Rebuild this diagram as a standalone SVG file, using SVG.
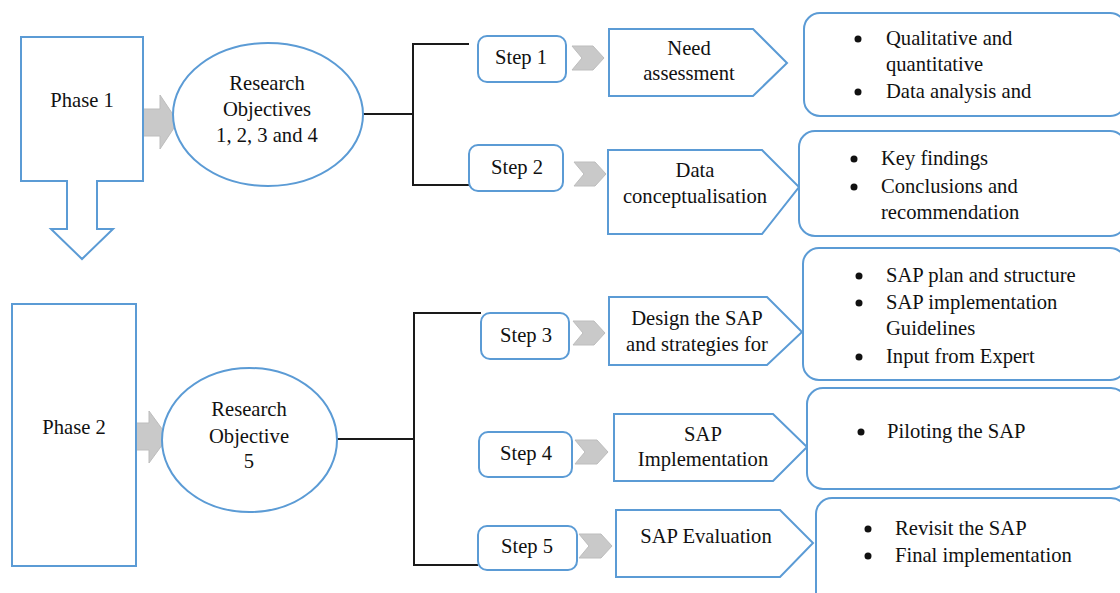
<svg xmlns="http://www.w3.org/2000/svg" width="1120" height="593" viewBox="0 0 1120 593">
  <style>
    .shape { fill: #ffffff; stroke: #5b9bd5; stroke-width: 2; }
    .block { fill: #c9c9c9; stroke: #bdbdbd; stroke-width: 1; }
    .wire { fill: none; stroke: #1a1a1a; stroke-width: 2; }
    .c { text-anchor: middle; }
    .dot { fill: #111111; }
  </style>
  <rect width="1120" height="593" fill="#ffffff"/>

  <!-- connectors -->
  <g id="connectors">
    <polyline class="wire" points="363,114 413,114"/>
    <polyline class="wire" points="469,44 413,44 413,185 469,185"/>
    <polyline class="wire" points="337,439 414,439"/>
    <polyline class="wire" points="481,313 414,313 414,565 478,565"/>
    <!-- block arrows from phases to objectives -->
    <polygon class="block" points="143,109 160,109 160,95 178,122 160,149 160,136 143,136"/>
    <polygon class="block" points="132,423 149,423 149,411 168,437 149,463 149,450 132,450"/>
    <!-- chevrons from steps to activities -->
    <polygon class="block" points="572,46 593,46 604,58 593,70 572,70 582,58"/>
    <polygon class="block" points="574,162 595,162 606,174 595,186 574,186 584,174"/>
    <polygon class="block" points="573,321 594,321 605,333 594,345 573,345 583,333"/>
    <polygon class="block" points="575,440 597,440 608,452 597,464 575,464 585,452"/>
    <polygon class="block" points="579,534 601,534 612,546 601,558 579,558 589,546"/>
  </g>

  <g font-family="'Liberation Serif', 'Times New Roman', Times, serif" font-size="20.6" fill="#111111">
  <!-- Phase 1 -->
  <g id="phase1">
    <polygon class="shape" points="21,37 143,37 143,181 97,181 97,229 113,229 82,259 51,229 67,229 67,181 21,181"/>
    <text class="c" x="82" y="107">Phase 1</text>
  </g>
  <g id="objectives1">
    <ellipse class="shape" cx="268" cy="114.5" rx="95" ry="71.5"/>
    <text class="c" x="267" y="90">Research</text>
    <text class="c" x="267" y="116">Objectives</text>
    <text class="c" x="267" y="142">1, 2, 3 and 4</text>
  </g>

  <!-- Phase 2 -->
  <g id="phase2">
    <rect class="shape" x="12" y="304" width="124" height="262"/>
    <text class="c" x="74" y="434">Phase 2</text>
  </g>
  <g id="objective5">
    <ellipse class="shape" cx="249.5" cy="440" rx="87.5" ry="72"/>
    <text class="c" x="249" y="416">Research</text>
    <text class="c" x="249" y="443">Objective</text>
    <text class="c" x="249" y="468">5</text>
  </g>

  <!-- Steps -->
  <g id="step1">
    <rect class="shape" x="478" y="36" width="88" height="46" rx="9"/>
    <text class="c" x="521" y="64">Step 1</text>
  </g>
  <g id="step2">
    <rect class="shape" x="469" y="145" width="94" height="46" rx="9"/>
    <text class="c" x="517" y="174">Step 2</text>
  </g>
  <g id="step3">
    <rect class="shape" x="481" y="313" width="88" height="46" rx="9"/>
    <text class="c" x="526" y="342">Step 3</text>
  </g>
  <g id="step4">
    <rect class="shape" x="479" y="432" width="93" height="45" rx="9"/>
    <text class="c" x="526" y="460">Step 4</text>
  </g>
  <g id="step5">
    <rect class="shape" x="478" y="526" width="99" height="44" rx="9"/>
    <text class="c" x="527" y="553">Step 5</text>
  </g>

  <!-- Activities -->
  <g id="need-assessment">
    <polygon class="shape" points="609,29 753,29 787,63 753,96 609,96"/>
    <text class="c" x="689" y="55">Need</text>
    <text class="c" x="689" y="80">assessment</text>
  </g>
  <g id="data-conceptualisation">
    <polygon class="shape" points="608,150 762,150 799,187 762,234 608,234"/>
    <text class="c" x="695" y="177">Data</text>
    <text class="c" x="695" y="203">conceptualisation</text>
  </g>
  <g id="design-sap">
    <polygon class="shape" points="609,297 767,297 802,332 767,365 609,365"/>
    <text class="c" x="697" y="325">Design the SAP</text>
    <text class="c" x="697" y="351">and strategies for</text>
  </g>
  <g id="sap-implementation">
    <polygon class="shape" points="614,414 773,414 807,447 773,481 614,481"/>
    <text class="c" x="703" y="441">SAP</text>
    <text class="c" x="703" y="466">Implementation</text>
  </g>
  <g id="sap-evaluation">
    <polygon class="shape" points="616,510 780,510 813,543 780,577 616,577"/>
    <text class="c" x="706" y="543">SAP Evaluation</text>
  </g>

  <!-- Outcomes -->
  <g id="outcomes1">
    <rect class="shape" x="804" y="13" width="322" height="103" rx="16"/>
    <circle class="dot" cx="858" cy="39" r="3.5"/>
    <circle class="dot" cx="858" cy="92" r="3.5"/>
    <text x="886" y="45">Qualitative and</text>
    <text x="886" y="71">quantitative</text>
    <text x="886" y="98">Data analysis and</text>
  </g>
  <g id="outcomes2">
    <rect class="shape" x="799" y="131" width="327" height="105" rx="16"/>
    <circle class="dot" cx="854" cy="159" r="3.5"/>
    <circle class="dot" cx="854" cy="187" r="3.5"/>
    <text x="881" y="165">Key findings</text>
    <text x="881" y="193">Conclusions and</text>
    <text x="881" y="219">recommendation</text>
  </g>
  <g id="outcomes3">
    <rect class="shape" x="803" y="248" width="323" height="132" rx="16"/>
    <circle class="dot" cx="859" cy="276" r="3.5"/>
    <circle class="dot" cx="859" cy="303" r="3.5"/>
    <circle class="dot" cx="859" cy="357" r="3.5"/>
    <text x="886" y="282">SAP plan and structure</text>
    <text x="886" y="309">SAP implementation</text>
    <text x="886" y="335">Guidelines</text>
    <text x="886" y="363">Input from Expert</text>
  </g>
  <g id="outcomes4">
    <rect class="shape" x="807" y="388" width="320" height="101" rx="16"/>
    <circle class="dot" cx="861" cy="432" r="3.5"/>
    <text x="887" y="438">Piloting the SAP</text>
  </g>
  <g id="outcomes5">
    <rect class="shape" x="816" y="498" width="311" height="110" rx="16"/>
    <circle class="dot" cx="868" cy="529" r="3.5"/>
    <circle class="dot" cx="868" cy="556" r="3.5"/>
    <text x="895" y="535">Revisit the SAP</text>
    <text x="895" y="562">Final implementation</text>
  </g>
  </g>
</svg>
